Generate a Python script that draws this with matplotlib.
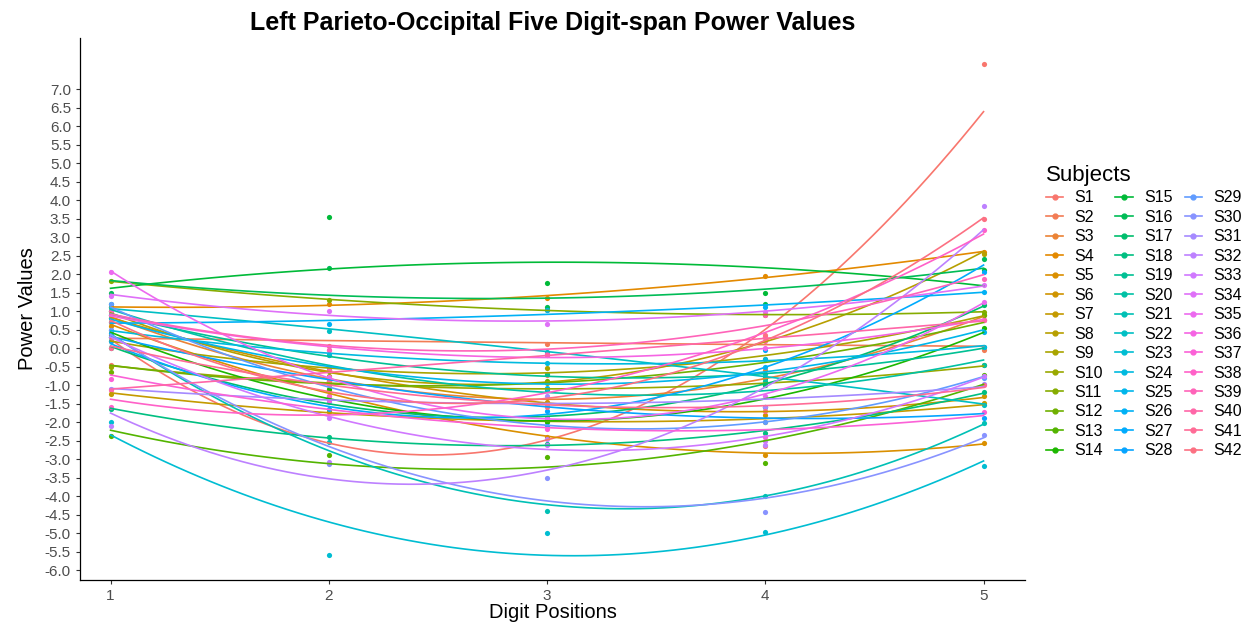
import numpy as np
import matplotlib.pyplot as plt
from matplotlib.lines import Line2D

plt.rcParams['font.family'] = ['Liberation Sans', 'DejaVu Sans']

# digit positions
positions = [1, 2, 3, 4, 5]

# power values per subject (one value per digit position)
s1 = [-0.47, -1.73, -0.74, -2.66, 7.68]
s2 = [0.35, 0.05, 0.1, 0.3, -0.05]
s3 = [0.9, -0.9, -1.5, -0.6, 0.76]
s4 = [1.1, 1.2, 1.35, 1.95, 2.6]
s5 = [0.6, -1.14, -2.4, -2.9, -2.56]
s6 = [0.8, -0.6, -1.45, -1.8, -1.3]
s7 = [-1.24, -1.7, -1.95, -2.0, -1.49]
s8 = [1.0, -0.75, -0.95, 0.3, 2.55]
s9 = [0.2, -0.6, -0.55, -0.3, 0.9]
s10 = [-0.5, -0.9, -1.1, -1.0, -0.46]
s11 = [1.81, 1.3, 1.03, 0.9, 0.98]
s12 = [-0.65, -0.61, -0.9, -0.8, 0.89]
s13 = [-2.38, -2.9, -2.94, -3.1, -0.73]
s14 = [0.3, -1.1, -2.0, -1.6, 0.54]
s15 = [1.0, 3.55, 1.76, 1.5, 2.11]
s16 = [1.5, 2.16, 1.1, 1.19, 2.4]
s17 = [0.0, -1.4, -1.9, -1.0, 1.16]
s18 = [-1.65, -2.4, -2.6, -2.3, -1.19]
s19 = [0.9, -0.2, -0.7, -0.8, 0.04]
s20 = [1.2, -0.8, -1.14, -0.9, -0.46]
s21 = [0.3, -2.55, -4.4, -4.0, -2.03]
s22 = [1.1, 0.45, -0.1, -0.7, -1.55]
s23 = [-2.0, -5.6, -5.0, -4.96, -3.2]
s24 = [0.5, -0.2, -0.4, -0.3, 0.04]
s25 = [0.8, -0.5, -1.08, -0.5, 0.44]
s26 = [0.7, 0.65, 1.03, 1.1, 1.52]
s27 = [0.2, -1.64, -2.1, -0.05, 2.06]
s28 = [0.4, -1.0, -1.7, -1.6, -1.9]
s29 = [1.2, -1.3, -1.9, -2.0, -0.8]
s30 = [0.5, -3.14, -3.5, -4.42, -2.35]
s31 = [-1.1, -1.45, -1.3, -1.6, -0.97]
s32 = [-2.12, -3.09, -2.46, -2.62, 3.84]
s33 = [0.3, -1.9, -2.62, -2.5, -0.75]
s34 = [1.4, 1.01, 0.65, 0.98, 1.7]
s35 = [2.06, -0.77, -1.9, -1.3, 1.25]
s36 = [0.9, -0.05, -0.2, 0.0, 0.76]
s37 = [-0.85, -1.4, -2.2, -2.4, -1.72]
s38 = [-1.59, -1.3, -1.5, 0.3, 3.19]
s39 = [1.0, -0.05, -0.15, 0.89, 1.86]
s40 = [-1.14, -0.6, -0.2, 0.2, 0.76]
s41 = [0.0, -0.9, -1.5, -1.7, -1.0]
s42 = [0.7, -1.0, -1.6, 0.35, 3.49]

subjects = [s1, s2, s3, s4, s5, s6, s7, s8, s9, s10, s11, s12, s13, s14,
            s15, s16, s17, s18, s19, s20, s21, s22, s23, s24, s25, s26, s27, s28,
            s29, s30, s31, s32, s33, s34, s35, s36, s37, s38, s39, s40, s41, s42]
names = ['S%d' % (i + 1) for i in range(len(subjects))]

y_ticks = np.arange(-6.0, 7.01, 0.5)


def hcl_color(h, c=100, l=65):
    # polar Luv -> sRGB, same as R's hcl()
    hr = np.radians(h)
    U, V = c * np.cos(hr), c * np.sin(hr)
    Xn, Yn, Zn = 95.047, 100.0, 108.883
    Y = Yn * ((l + 16) / 116) ** 3 if l > 8 else Yn * l / 903.3
    un = 4 * Xn / (Xn + 15 * Yn + 3 * Zn)
    vn = 9 * Yn / (Xn + 15 * Yn + 3 * Zn)
    u = U / (13 * l) + un
    v = V / (13 * l) + vn
    X = 9 * Y * u / (4 * v)
    Z = (9 * Y / v - X - 15 * Y) / 3
    X, Y, Z = X / 100, Y / 100, Z / 100
    r = 3.240479 * X - 1.537150 * Y - 0.498535 * Z
    g = -0.969256 * X + 1.875992 * Y + 0.041556 * Z
    b = 0.055648 * X - 0.204043 * Y + 1.057311 * Z
    out = []
    for ch in (r, g, b):
        ch = 12.92 * ch if ch <= 0.0031308 else 1.055 * ch ** (1 / 2.4) - 0.055
        out.append(min(max(ch, 0), 1))
    return tuple(out)


n = len(subjects)
hues = np.linspace(15, 375, n + 1)[:n]
colors = [hcl_color(h) for h in hues]

fig = plt.figure(figsize=(12.54, 6.24), dpi=100)
ax = fig.add_axes([80 / 1254, 1 - 580 / 624, 945 / 1254, 542 / 624])

xs = np.array(positions, dtype=float)
xfine = np.linspace(1, 5, 80)
for vals, col in zip(subjects, colors):
    ax.scatter(xs, vals, s=14, color=col, zorder=2, linewidths=0)
    coef = np.polyfit(xs, vals, 2)
    ax.plot(xfine, np.polyval(coef, xfine), color=col, lw=1.2, zorder=3)

ax.set_xlim(0.86, 5.19)
ax.set_ylim(-6.27, 8.38)
ax.set_xticks(positions)
ax.set_xticklabels([str(p) for p in positions])
ax.set_yticks(y_ticks)
ax.set_yticklabels(['%.1f' % v for v in y_ticks])
ax.tick_params(axis='both', labelsize=11, labelcolor='#4D4D4D', color='#333333',
               length=3, width=0.8)
for side in ['top', 'right']:
    ax.spines[side].set_visible(False)
for side in ['left', 'bottom']:
    ax.spines[side].set_linewidth(0.9)

ax.set_xlabel('Digit Positions', fontsize=14.5, labelpad=0)
ax.set_ylabel('Power Values', fontsize=14.5, labelpad=6)
ax.set_title('Left Parieto-Occipital Five Digit-span Power Values',
             fontsize=18, fontweight='bold', pad=6)

handles = [Line2D([0], [0], color=c, lw=1.2, marker='o', ms=3.5) for c in colors]
leg = fig.legend(handles, names, ncol=3, loc='upper left',
                 bbox_to_anchor=(1041 / 1254, 1 - 160 / 624), frameon=False,
                 title='Subjects', fontsize=11.5, title_fontsize=16,
                 handlelength=1.1, handletextpad=0.7, columnspacing=0.75,
                 labelspacing=0.28, alignment='left', borderaxespad=0,
                 borderpad=0.3)

fig.savefig('out.png', dpi=100)
